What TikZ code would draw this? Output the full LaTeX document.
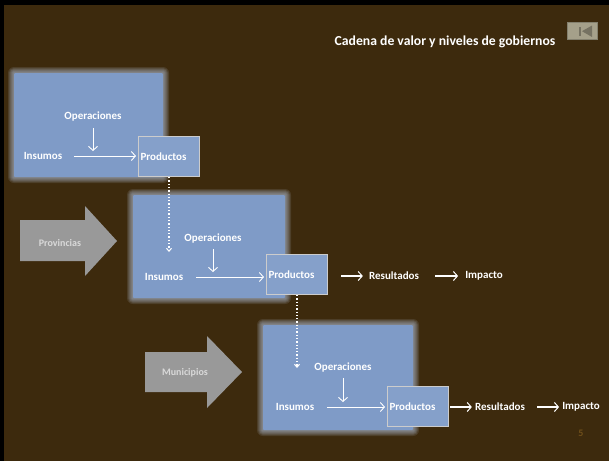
\documentclass[tikz,border=0pt]{standalone}
\usepackage{fontspec}
\setmainfont{Carlito}
\usetikzlibrary{arrows.meta}

\definecolor{bgbrown}{RGB}{61,42,13}
\definecolor{panelblue}{RGB}{127,155,199}
\definecolor{haloblue}{RGB}{185,202,228}
\definecolor{levelgray}{RGB}{153,153,153}
\definecolor{btnfill}{RGB}{165,160,138}
\definecolor{btnicon}{RGB}{118,114,98}
\definecolor{pagenum}{RGB}{110,78,26}

% soft-edged panel: thin translucent halo rings around a solid core
\newcommand\glowpanel[4]{%
  \foreach \g in {6,5,4,3,2,1}{%
    \fill[haloblue,opacity=0.13,rounded corners=\g pt] (#1-\g,#2-\g) rectangle (#3+\g,#4+\g);}
  \fill[panelblue,rounded corners=1pt] (#1,#2) rectangle (#3,#4);}

\tikzset{
  lbl/.style={text=white,font=\bfseries\fontsize{11}{13}\selectfont,inner sep=0pt},
  level/.style={text=black!15,font=\bfseries\fontsize{10}{12}\selectfont,inner sep=0pt},
  prod/.style={lbl,draw=black!20,line width=1pt,fill=panelblue!95!white,
    minimum width=61pt,minimum height=40pt,text width=57pt,align=left,inner xsep=2pt},
  flow/.style={draw=white,line width=0.9pt,-{Straight Barb[length=4pt,width=9pt,line width=0.9pt]}},
  drop/.style={draw=white,line width=1.3pt,dotted,-{Straight Barb[length=3pt,width=5pt,line width=1pt]}},
  chain/.style={draw=white,line width=1.4pt,-{Straight Barb[length=4pt,width=9pt,line width=1pt]}},
}

\begin{document}
\begin{tikzpicture}[x=1pt,y=-1pt]
\useasboundingbox (0,0) rectangle (609,461);
\fill[black] (0,0) rectangle (609,461);
\fill[bgbrown] (4,5) rectangle (609,461);

% title and back button
\node[lbl,font=\bfseries\fontsize{13.7}{16}\selectfont] (title) at (445,42) {Cadena de valor y niveles de gobiernos};
\node[draw=btnfill!80!black,fill=btnfill,minimum width=30pt,minimum height=17pt,inner sep=0pt] (btn) at (582,31) {};
\fill[btnicon] (578.5,27) rectangle (580.8,35.5);
\fill[btnicon] (582,31.2) -- (592,25.5) -- (592,37) -- cycle;

% three value chains, one per level of government
\glowpanel{14}{73}{163}{177}
\glowpanel{133}{195}{285}{298}
\glowpanel{263}{325}{413}{430}

% national chain
\node[lbl] (op1) at (93,117) {Operaciones};
\node[lbl] (in1) at (43,156) {Insumos};
\node[prod,anchor=north west] (p1) at (138,136) {Productos};
\draw[flow,shorten <=12pt,shorten >=2pt] (in1.east) -- (in1.east -| p1.west);
\draw[flow,shorten <=6pt,shorten >=5pt] (op1.south) -- (op1.south |- in1.east);

% provincial chain
\node[lbl] (op2) at (213,238) {Operaciones};
\node[lbl] (in2) at (164,277) {Insumos};
\node[prod,anchor=north west] (p2) at (266,254) {Productos};
\node[lbl] (res2) at (394,276) {Resultados};
\node[lbl] (imp2) at (484,276) {Impacto};
\draw[flow,shorten <=13pt,shorten >=2pt] (in2.east) -- (in2.east -| p2.west);
\draw[flow,shorten <=6pt,shorten >=5pt] (op2.south) -- (op2.south |- in2.east);
\draw[chain,shorten <=13pt,shorten >=6pt] (p2.east |- res2.west) -- (res2.west);
\draw[chain,shorten <=16pt,shorten >=7pt] (res2.east) -- (imp2.west);

% municipal chain
\node[lbl] (op3) at (343,367) {Operaciones};
\node[lbl] (in3) at (295,407) {Insumos};
\node[prod,anchor=north west] (p3) at (387,386) {Productos};
\node[lbl] (res3) at (500,407) {Resultados};
\node[lbl] (imp3) at (581,407) {Impacto};
\draw[flow,shorten <=13pt,shorten >=2pt] (in3.east) -- (in3.east -| p3.west);
\draw[flow,shorten <=6pt,shorten >=5pt] (op3.south) -- (op3.south |- in3.east);
\draw[chain,shorten <=1pt,shorten >=3pt] (p3.east |- res3.west) -- (res3.west);
\draw[chain,shorten <=12pt,shorten >=3pt] (res3.east) -- (imp3.west);

% hand-over of products between levels
\coordinate (d1) at (169,252);
\coordinate (d2) at (297,368);
\draw[drop] (p1.south -| d1) -- (d1);
\draw[drop] (p2.south -| d2) -- (d2);

% level markers
\fill[levelgray] (20,220) -- (85,220) -- (85,206) -- (117,241) -- (85,276) -- (85,261) -- (20,261) -- cycle;
\node[level] (prov) at (60,243) {Provincias};
\fill[levelgray] (145,352) -- (207,352) -- (207,336) -- (242,372) -- (207,408) -- (207,392) -- (145,392) -- cycle;
\node[level] (muni) at (185,373) {Municipios};

% page number
\node[text=pagenum,font=\bfseries\fontsize{10}{12}\selectfont,inner sep=0pt] (pg) at (581,433) {5};
\end{tikzpicture}
\end{document}
